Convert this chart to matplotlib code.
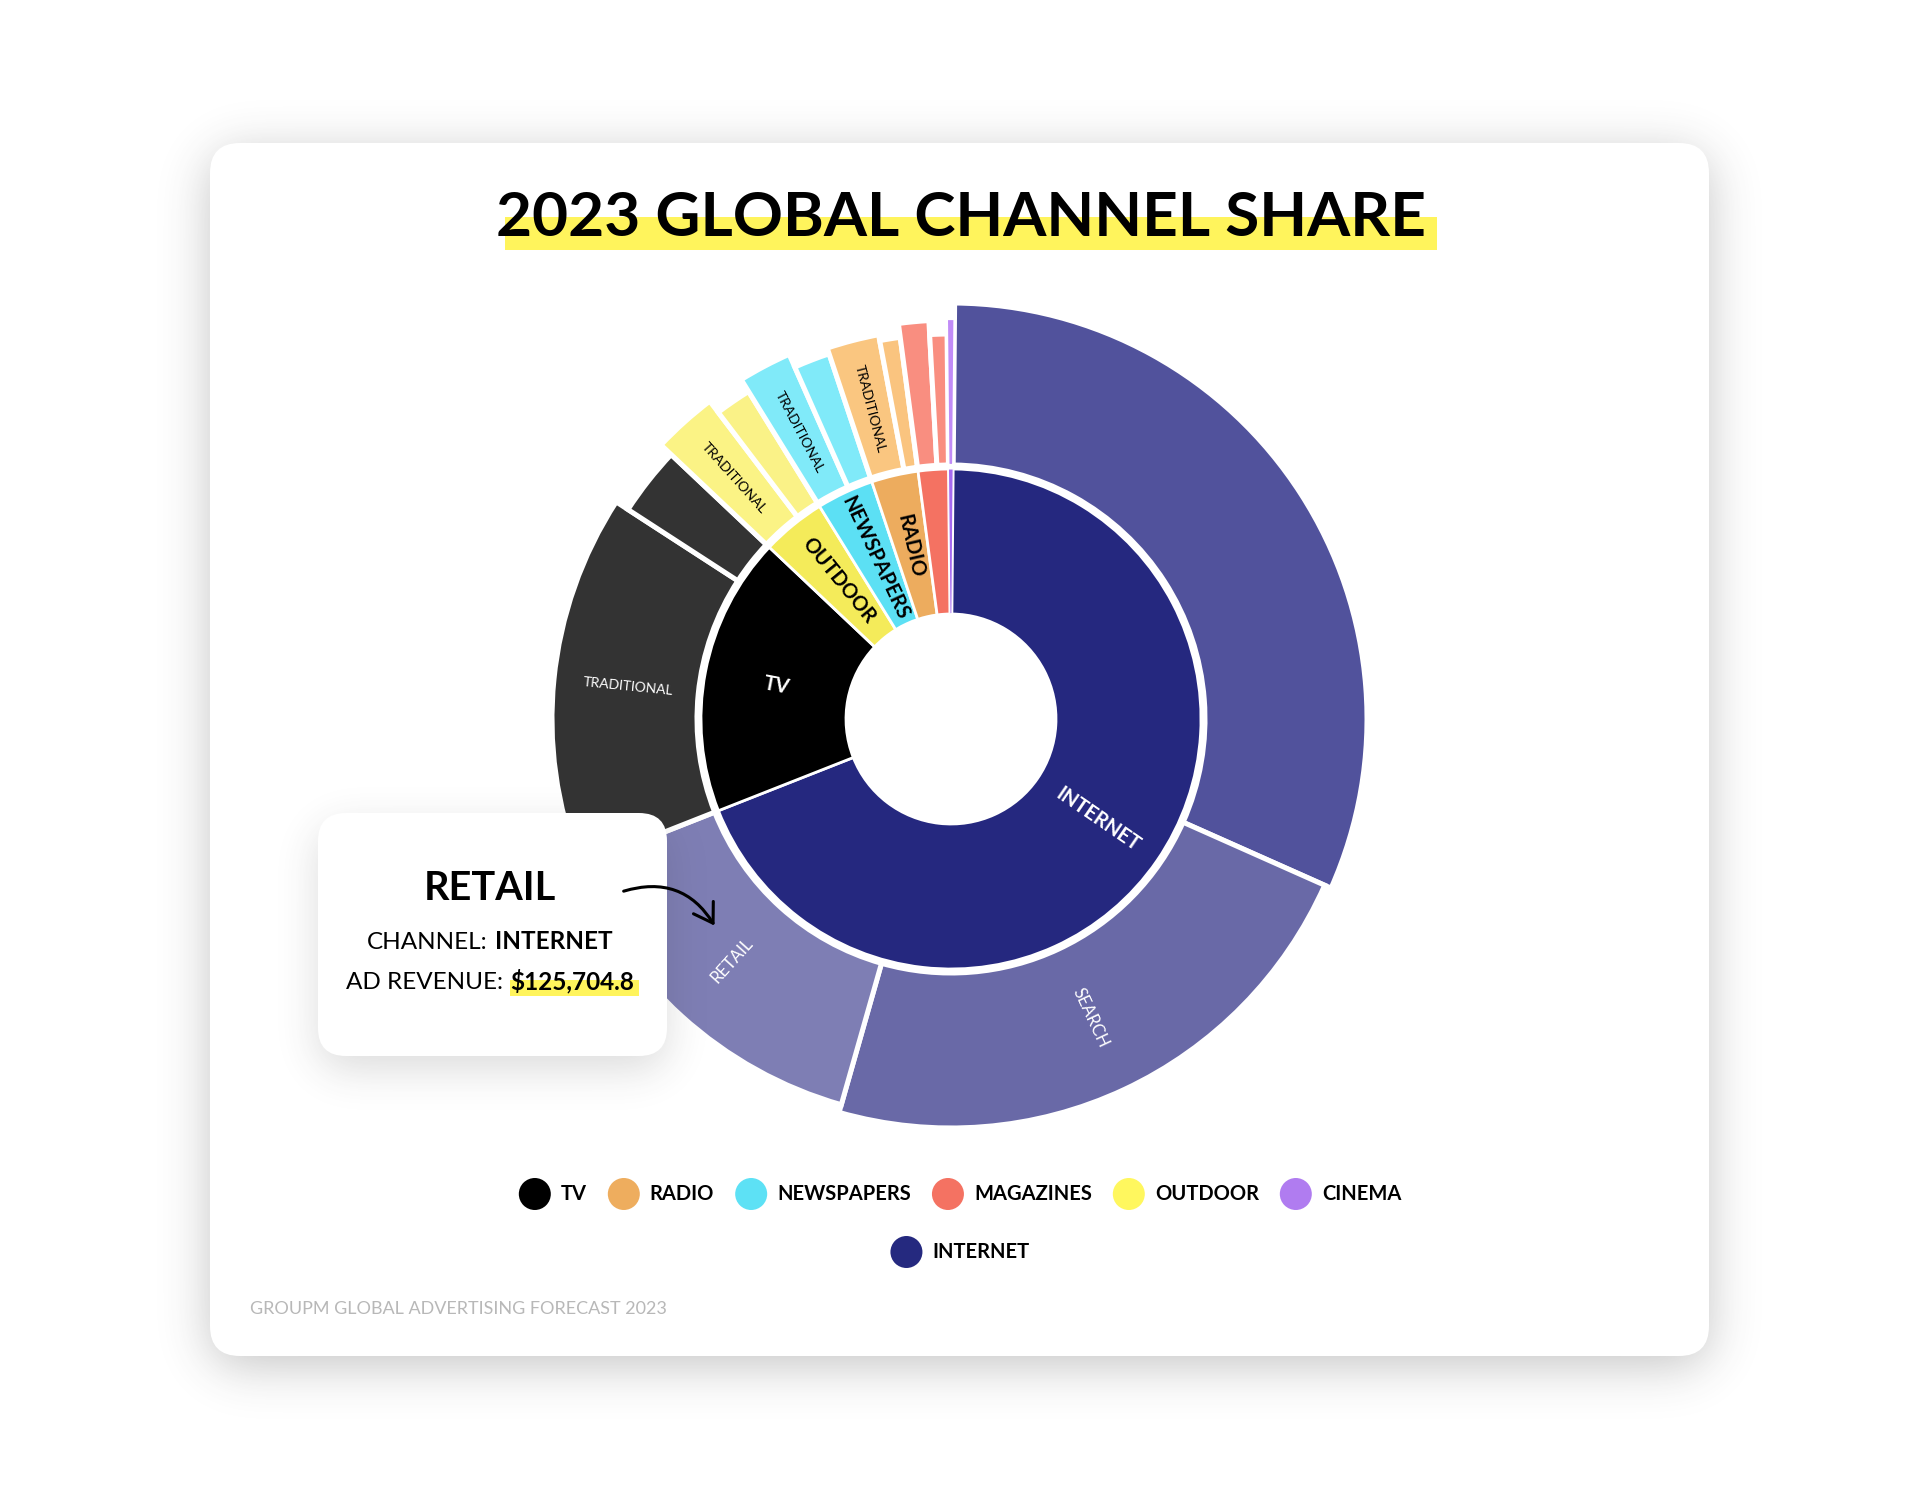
import numpy as np
import matplotlib
matplotlib.use("Agg")
import matplotlib.pyplot as plt
from matplotlib.patches import FancyBboxPatch, Circle, Rectangle, FancyArrowPatch

# ── Data (ad revenue, $M) ───────────────────────────────────────────────────
channels = ["INTERNET", "TV", "OUTDOOR", "NEWSPAPERS", "RADIO", "MAGAZINES", "CINEMA"]
inner_label_shown = [True, True, True, True, True, False, False]

outer_parent = ["INTERNET", "INTERNET", "INTERNET", "TV", "TV", "OUTDOOR", "OUTDOOR",
                "NEWSPAPERS", "NEWSPAPERS", "RADIO", "RADIO", "MAGAZINES", "MAGAZINES",
                "CINEMA"]
outer_names = ["OTHER", "SEARCH", "RETAIL", "TRADITIONAL", "DIGITAL", "TRADITIONAL", "DIGITAL",
               "TRADITIONAL", "DIGITAL", "TRADITIONAL", "DIGITAL", "TRADITIONAL", "DIGITAL",
               "CINEMA"]
outer_values = [271200, 195700, 125704.8, 130200, 24900, 22500, 13100,
                18600, 13100, 18600, 7400, 10500, 6200, 2600]
outer_label_shown = [False, True, True, True, False, True, False,
                     True, False, True, False, False, False, False]

inner_values = [sum(v for v, p in zip(outer_values, outer_parent) if p == c) for c in channels]

legend_order = ["TV", "RADIO", "NEWSPAPERS", "MAGAZINES", "OUTDOOR", "CINEMA", "INTERNET"]

# ── Style ───────────────────────────────────────────────────────────────────
plt.rcParams["font.family"] = ["Lato", "DejaVu Sans"]

inner_colors = ["#25287F", "#000000", "#F4EB5A", "#5CE0F4", "#EDAC5E", "#F47262", "#A66AF0"]
inner_text_colors = ["white", "white", "black", "black", "black", "black", "black"]
outer_colors = ["#51529C", "#6969A7", "#7E7EB4", "#333333", "#333333", "#FBF385", "#FAF287",
                "#80EAF9", "#80EAF9", "#FAC680", "#FAC47F", "#F98E80", "#F98E80", "#C18CF7"]
outer_text_colors = ["white", "white", "white", "white", "white", "black", "black",
                     "black", "black", "black", "black", "black", "black", "black"]
outer_radius = [413, 406, 398, 396, 382, 396, 382, 396, 382, 388, 382, 396, 382, 397]
legend_colors = {"TV": "#000000", "RADIO": "#EEAD5E", "NEWSPAPERS": "#5DE1F5",
                 "MAGAZINES": "#F47262", "OUTDOOR": "#FFF75E", "CINEMA": "#B07CF0",
                 "INTERNET": "#25297F"}
HIGHLIGHT = "#FFF45C"

W, H = 1920, 1500
fig = plt.figure(figsize=(19.2, 15), dpi=100)
ax = fig.add_axes([0, 0, 1, 1])


def rounded_mask(x0, y0, x1, y1, r):
    yy, xx = np.mgrid[0:H, 0:W] + 0.5
    dx = np.maximum(np.maximum(x0 + r - xx, xx - (x1 - r)), 0)
    dy = np.maximum(np.maximum(y0 + r - yy, yy - (y1 - r)), 0)
    inside = (xx >= x0) & (xx <= x1) & (yy >= y0) & (yy <= y1)
    return (inside & (dx ** 2 + dy ** 2 <= r ** 2)).astype(float)


def blur(a, sigma):
    fy = np.fft.fftfreq(a.shape[0])[:, None]
    fx = np.fft.rfftfreq(a.shape[1])[None, :]
    g = np.exp(-2 * np.pi ** 2 * sigma ** 2 * (fx ** 2 + fy ** 2))
    return np.fft.irfft2(np.fft.rfft2(a) * g, s=a.shape)


def shadow(x0, y0, x1, y1, r, sigma, alpha, offset, z):
    m = blur(rounded_mask(x0, y0 + offset, x1, y1 + offset, r), sigma)
    rgba = np.zeros((H, W, 4))
    rgba[..., :3] = 0.25
    rgba[..., 3] = np.clip(m, 0, 1) * alpha
    ax.imshow(rgba, extent=(0, W, 0, H), origin="upper", zorder=z, interpolation="bilinear")


# ── Card ────────────────────────────────────────────────────────────────────
shadow(210, 143, 1709, 1356, 30, 24, 0.30, 10, 0)
ax.add_patch(FancyBboxPatch((210, H - 1356), 1499, 1213, boxstyle="round,pad=0,rounding_size=30",
                            fc="white", ec="none", zorder=1))

renderer = fig.canvas.get_renderer()

# title with highlighter stripe, sized to the reference width
title = ax.text(961, H - 236, "2023 GLOBAL CHANNEL SHARE", fontsize=43, fontweight="bold",
                ha="center", va="baseline", zorder=3)
title.set_fontsize(43 * 929 / title.get_window_extent(renderer).width)
bb = title.get_window_extent(renderer)
ax.add_patch(Rectangle((bb.x0 + 9, H - 250), bb.width + 2, 33, fc=HIGHLIGHT, ec="none", zorder=2))

# ── Sunburst ────────────────────────────────────────────────────────────────
cx, cy = 951, H - 719
start = 89.5

inner_w, _ = ax.pie(inner_values, radius=250, center=(cx, cy), startangle=start,
                    counterclock=False, colors=inner_colors,
                    wedgeprops=dict(width=145, edgecolor="white", linewidth=2.0))
outer_w, _ = ax.pie(outer_values, radius=400, center=(cx, cy), startangle=start,
                    counterclock=False, colors=outer_colors,
                    wedgeprops=dict(width=100, edgecolor="white", linewidth=3.6))
for w in inner_w:
    w.set_zorder(2)
inner_w[-1].set_linewidth(0.8)
for w, r in zip(outer_w, outer_radius):
    w.set_radius(r + 3)
    w.set_width(r + 3 - 254)
    w.set_zorder(2)
outer_w[-1].set_linewidth(1.6)


def radial_label(w, r, text, size, weight, color):
    mid = (w.theta1 + w.theta2) / 2
    a = np.deg2rad(mid)
    ang = mid % 360
    rot = ang - 180 if 90 < ang < 270 else (ang - 360 if ang >= 270 else ang)
    ax.text(cx + r * np.cos(a), cy + r * np.sin(a), text, rotation=rot, rotation_mode="anchor",
            ha="center", va="center", fontsize=size, fontweight=weight, color=color, zorder=3)


for w, name, show, col in zip(inner_w, channels, inner_label_shown, inner_text_colors):
    if show:
        radial_label(w, 178, name, 14.5, "bold", col)

for w, name, show, col, r, p in zip(outer_w, outer_names, outer_label_shown, outer_text_colors,
                                    outer_radius, outer_parent):
    if show:
        radial_label(w, (257 + r) / 2 - 2, name, 12 if p == "INTERNET" else 10, "normal", col)

# ── Tooltip ─────────────────────────────────────────────────────────────────
shadow(318, 813, 667, 1056, 28, 20, 0.18, 14, 5)
ax.add_patch(FancyBboxPatch((318, H - 1056), 349, 243, boxstyle="round,pad=0,rounding_size=28",
                            fc="white", ec="none", zorder=6))

tip_cx = 490
t = ax.text(tip_cx, H - 900, outer_names[2], fontsize=28.5, fontweight="bold",
            ha="center", va="baseline", zorder=8)
bb = t.get_window_extent(renderer)
ax.add_patch(Rectangle((bb.x0 + 2, H - 909), bb.width + 6, 21, fc=HIGHLIGHT, ec="none", zorder=7))


def two_part(y, left, right, size):
    t1 = ax.text(0, y, left, fontsize=size, fontweight="normal", va="baseline", ha="left", zorder=8)
    t2 = ax.text(0, y, right, fontsize=size, fontweight="bold", va="baseline", ha="left", zorder=8)
    w1 = t1.get_window_extent(renderer).width
    w2 = t2.get_window_extent(renderer).width
    gap = 7
    x0 = tip_cx - (w1 + gap + w2) / 2
    t1.set_x(x0)
    t2.set_x(x0 + w1 + gap)
    return x0 + w1 + gap, w2


two_part(H - 949, "CHANNEL:", outer_parent[2], 17.5)
vx, vw = two_part(H - 989, "AD REVENUE:", f"${outer_values[2]:,.1f}", 17.5)
ax.add_patch(Rectangle((vx, H - 996), vw + 5, 16, fc=HIGHLIGHT, ec="none", zorder=7))

ax.add_patch(FancyArrowPatch((621, H - 892), (716, H - 928), connectionstyle="arc3,rad=-0.4",
                             arrowstyle="->,head_length=0.55,head_width=0.35", mutation_scale=24,
                             lw=2.2, color="black", zorder=9))

# ── Legend ──────────────────────────────────────────────────────────────────
def legend_row(items, y):
    texts = [ax.text(0, y, it, fontsize=14.5, fontweight="bold", ha="left", va="center", zorder=3)
             for it in items]
    widths = [tt.get_window_extent(renderer).width for tt in texts]
    total = sum(32 + 10 + wd for wd in widths) + 21 * (len(items) - 1)
    x = 960 - total / 2
    for it, tt, wd in zip(items, texts, widths):
        ax.add_patch(Circle((x + 16, y), 16, fc=legend_colors[it], ec="none", zorder=3))
        tt.set_x(x + 42)
        x += 42 + wd + 21


legend_row(legend_order[:6], H - 1194)
legend_row(legend_order[6:], H - 1252)

foot = ax.text(250, H - 1314, "GROUPM GLOBAL ADVERTISING FORECAST 2023", fontsize=13.7,
               fontweight="normal", color="#B8B8B8", ha="left", va="baseline", zorder=3)
foot.set_fontsize(13.7 * 418 / foot.get_window_extent(renderer).width)

ax.set_xlim(0, W)
ax.set_ylim(0, H)
ax.set_aspect("equal")
ax.set_axis_off()
fig.savefig("out.png", dpi=100, facecolor="white")
